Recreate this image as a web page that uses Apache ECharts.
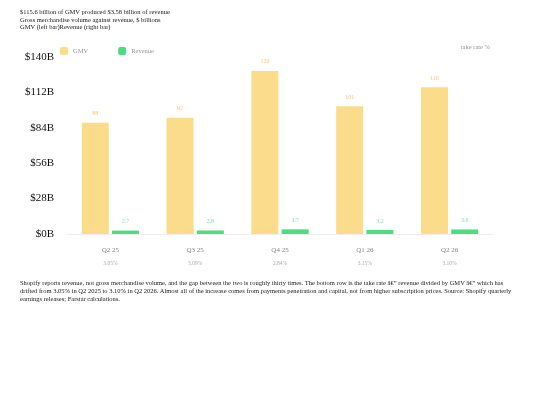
<!DOCTYPE html>
<html>
<head>
<meta charset="utf-8">
<script src="https://cdn.jsdelivr.net/npm/echarts@6/dist/echarts.min.js"></script>
<style>
  body { margin: 0; background: #fff; font-family: "Liberation Serif", serif; }
  #head { position: absolute; left: 20px; top: 8px; font-size: 6.5px; line-height: 7.5px; color: #222; }
  #chart { position: absolute; left: 0; top: 0; width: 540px; height: 405px; }
  #foot { position: absolute; left: 20px; top: 279px; width: 500px; font-size: 6.5px; line-height: 8px; color: #222; }
</style>
</head>
<body>
<div id="chart"></div>
<div id="head">$115.6 billion of GMV produced $3.58 billion of revenue<br>Gross merchandise volume against revenue, $ billions<br>GMV (left bar)Revenue (right bar)</div>
<div id="foot">Shopify reports revenue, not gross merchandise volume, and the gap between the two is roughly thirty times. The bottom row is the take rate â€” revenue divided by GMV â€” which has drifted from 3.05% in Q2 2025 to 3.10% in Q2 2026. Almost all of the increase comes from payments penetration and capital, not from higher subscription prices. Source: Shopify quarterly earnings releases; Farstar calculations.</div>
<script>
const quarters = ['Q2 25', 'Q3 25', 'Q4 25', 'Q1 26', 'Q2 26'];
const gmv = [88, 92, 129, 101, 116];
const revenue = [2.7, 2.8, 3.7, 3.2, 3.6];
const takeRate = ['3.05%', '3.09%', '2.84%', '3.15%', '3.10%'];

const chart = echarts.init(document.getElementById('chart'));
chart.setOption({
    animation: false,
    textStyle: { fontFamily: 'Liberation Serif' },
    legend: {
        left: 55, top: 42, itemWidth: 8, itemHeight: 8, itemGap: 30,
        textStyle: { fontSize: 6.5, color: '#999' },
        data: ['GMV', 'Revenue']
    },
    graphic: [{
        type: 'text', right: 50, top: 44,
        style: { text: 'take rate %', fontSize: 6.5, fill: '#999', fontFamily: 'Liberation Serif' }
    }],
    grid: { left: 68, right: 48, top: 57, bottom: 171 },
    xAxis: {
        type: 'category', data: quarters,
        axisLine: { lineStyle: { color: '#eee' } }, axisTick: { show: false },
        axisLabel: {
            margin: 10, fontSize: 7, color: '#888', lineHeight: 13,
            formatter: (v, i) => v + '\n{r|' + takeRate[i] + '}',
            rich: { r: { fontSize: 5.5, color: '#aab', fontFamily: 'Liberation Serif' } }
        }
    },
    yAxis: {
        type: 'value', min: 0, max: 140, interval: 28,
        splitLine: { show: false },
        axisLabel: { formatter: v => '$' + v + 'B', fontSize: 11, color: '#111', margin: 14 }
    },
    series: [
        {
            name: 'GMV', type: 'bar', data: gmv, barWidth: 27, barGap: '12%',
            itemStyle: { color: '#fbdc8a' },
            label: { show: true, position: 'top', fontSize: 6, color: '#f3c96a', distance: 6 }
        },
        {
            name: 'Revenue', type: 'bar', data: revenue, barWidth: 27,
            itemStyle: { color: '#4ddb85' },
            label: { show: true, position: 'top', fontSize: 6, color: '#7fe3a5', distance: 6 }
        }
    ]
});
</script>
</body>
</html>
